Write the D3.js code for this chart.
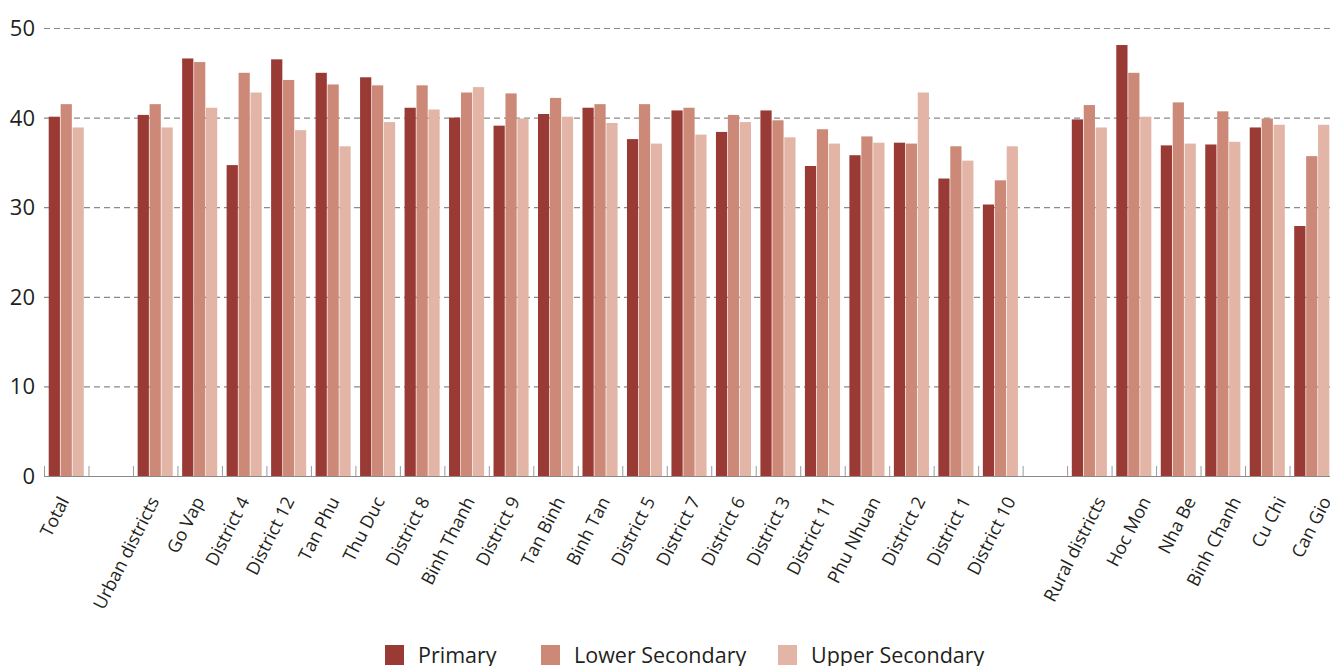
<!DOCTYPE html>
<html lang="en">
<head>
<meta charset="UTF-8" />
<style>
  body { margin: 0; background: #fff; }
  svg text { font-family: "Open Sans", sans-serif; fill: #231f20; }
</style>
</head>
<body>
<svg id="chart" width="1330" height="666"></svg>
<script src="https://d3js.org/d3.v7.min.js"></script>
<script>
// categories, "" = empty spacer slot
var categories = ["Total", "", "Urban districts", "Go Vap", "District 4", "District 12", "Tan Phu",
    "Thu Duc", "District 8", "Binh Thanh", "District 9", "Tan Binh", "Binh Tan", "District 5",
    "District 7", "District 6", "District 3", "District 11", "Phu Nhuan", "District 2", "District 1",
    "District 10", "", "Rural districts", "Hoc Mon", "Nha Be", "Binh Chanh", "Cu Chi", "Can Gio"]

var primary = [40.1, null, 40.3, 46.6, 34.7, 46.5, 45.0, 44.5, 41.1, 40.0, 39.1, 40.4, 41.1, 37.6,
    40.8, 38.4, 40.8, 34.6, 35.8, 37.2, 33.2, 30.3, null, 39.8, 48.1, 36.9, 37.0, 38.9, 27.9]
var lowerSecondary = [41.5, null, 41.5, 46.2, 45.0, 44.2, 43.7, 43.6, 43.6, 42.8, 42.7, 42.2, 41.5, 41.5,
    41.1, 40.3, 39.7, 38.7, 37.9, 37.1, 36.8, 33.0, null, 41.4, 45.0, 41.7, 40.7, 39.9, 35.7]
var upperSecondary = [38.9, null, 38.9, 41.1, 42.8, 38.6, 36.8, 39.5, 40.9, 43.4, 39.9, 40.1, 39.4, 37.1,
    38.1, 39.5, 37.8, 37.1, 37.2, 42.8, 35.2, 36.8, null, 38.9, 40.1, 37.1, 37.3, 39.2, 39.2]

var seriesNames = ["Primary", "Lower Secondary", "Upper Secondary"]
var seriesColors = ["#993a35", "#cd8978", "#e2b5a6"]
var yTicks = [0, 10, 20, 30, 40, 50]

var svg = d3.select("#chart")
var margin = { left: 44, right: 0, top: 28, bottom: 190 }
var width = 1334, height = 666

var x = d3.scaleBand()
    .domain(d3.range(categories.length))
    .range([margin.left, width - margin.right])
    .paddingInner(0).paddingOuter(0)

// bars sit inside the band with ~4.7px margin each side
var x1 = d3.scaleBand()
    .domain([0, 1, 2])
    .range([4.7, x.bandwidth() - 4.7])
    .paddingInner(0.06).paddingOuter(0)

// labels in the original drift slightly wider than the bars
var xLabel = d3.scalePoint()
    .domain(d3.range(categories.length))
    .range([64, 1326])

var y = d3.scaleLinear()
    .domain([0, 50])
    .range([476, 28])

// gridlines
svg.append("g").selectAll("line")
    .data(yTicks.filter(d => d > 0))
    .enter().append("line")
    .attr("x1", margin.left).attr("x2", 1330)
    .attr("y1", d => y(d) + 0.5).attr("y2", d => y(d) + 0.5)
    .attr("stroke", "#8a8a8a").attr("stroke-width", 1.2)
    .attr("stroke-dasharray", "6,4")

// y labels
svg.append("g").selectAll("text")
    .data(yTicks)
    .enter().append("text")
    .attr("x", 35).attr("y", d => y(d))
    .attr("dy", "0.36em")
    .attr("text-anchor", "end")
    .attr("font-size", "22px")
    .text(d => d)

// bars
var data = categories.map((c, i) => ({ i: i, vals: [primary[i], lowerSecondary[i], upperSecondary[i]] }))

var groups = svg.append("g").selectAll("g")
    .data(data)
    .enter().append("g")
    .attr("transform", d => `translate(${x(d.i)},0)`)

groups.selectAll("rect")
    .data(d => d.vals.map((v, k) => ({ k: k, v: v })).filter(e => e.v != null))
    .enter().append("rect")
    .attr("x", e => x1(e.k))
    .attr("width", x1.bandwidth())
    .attr("y", e => y(e.v))
    .attr("height", e => y(0) - y(e.v))
    .attr("fill", e => seriesColors[e.k])

// baseline + tick marks
svg.append("line")
    .attr("x1", margin.left).attr("x2", 1330)
    .attr("y1", y(0) + 0.5).attr("y2", y(0) + 0.5)
    .attr("stroke", "#8a8a8a").attr("stroke-width", 1.2)

svg.append("g").selectAll("line")
    .data(d3.range(categories.length))
    .enter().append("line")
    .attr("x1", i => x(i) + 0.5).attr("x2", i => x(i) + 0.5)
    .attr("y1", y(0) - 10).attr("y2", y(0))
    .attr("stroke", "#9a9a9a").attr("stroke-width", 1)

// x labels
svg.append("g").selectAll("text")
    .data(data.filter(d => categories[d.i] !== ""))
    .enter().append("text")
    .attr("transform", d => `translate(${xLabel(d.i)},${498}) rotate(-63)`)
    .attr("text-anchor", "end")
    .attr("dy", "0.35em")
    .attr("font-size", "18px")
    .text(d => categories[d.i])

// legend
var legendX = [385, 541, 778]
var legend = svg.append("g").selectAll("g")
    .data(seriesNames)
    .enter().append("g")
    .attr("transform", (d, i) => `translate(${legendX[i]},645)`)

legend.append("rect")
    .attr("width", 19).attr("height", 20)
    .attr("fill", (d, i) => seriesColors[i])

legend.append("text")
    .attr("x", 33).attr("y", 10)
    .attr("dy", "0.36em")
    .attr("font-size", "21.5px")
    .text(d => d)
</script>
</body>
</html>
